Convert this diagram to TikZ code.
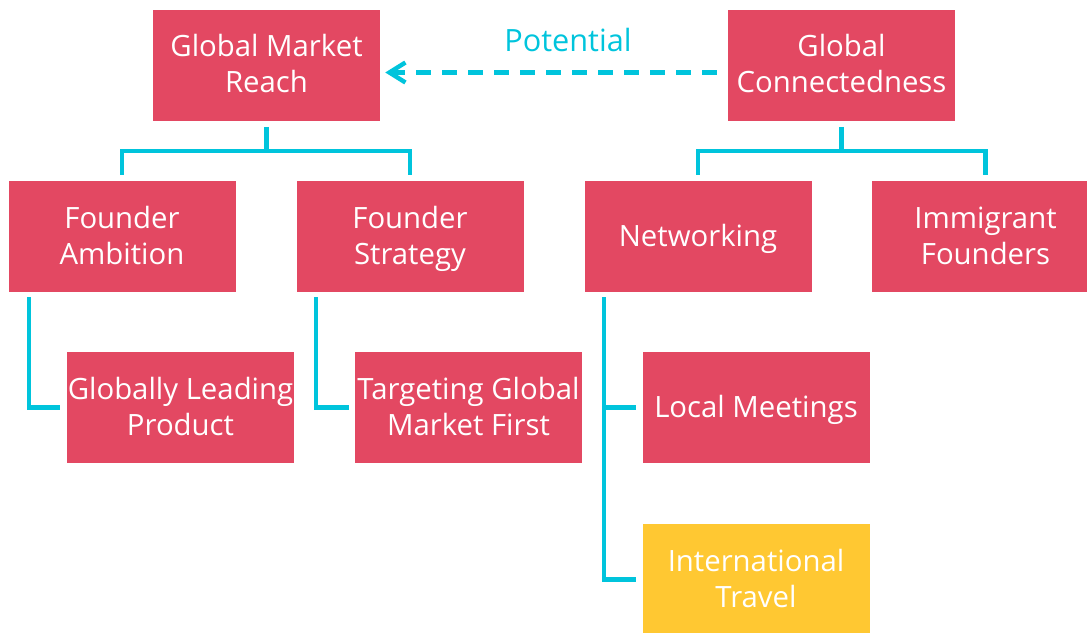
\documentclass[tikz,border=0pt]{standalone}
\usepackage{fontspec}
\setmainfont{Open Sans}
\usetikzlibrary{calc,arrows.meta}
\definecolor{boxred}{RGB}{227,72,98}
\definecolor{boxyellow}{RGB}{255,200,50}
\definecolor{linkcyan}{RGB}{0,196,220}
\newcommand{\bs}{\rule[-6pt]{0pt}{26.25pt}}

\begin{document}
\begin{tikzpicture}[x=0.75pt,y=-0.75pt,
  box/.style={rectangle, fill=boxred, text=white, align=center, minimum width=170.25pt, minimum height=83.25pt, inner sep=0pt, font=\fontsize{22}{27}\selectfont},
  link/.style={linkcyan, line width=3.3pt}]
\useasboundingbox (0,0) rectangle (1087,632);

% Top level
\node[box] (reach) at (266.5,65) {\bs Global Market\\Reach\bs};
\node[box] (connect) at (841.5,65) {\bs Global\\Connectedness\bs};

% Second level
\node[box] (ambition) at (122,236.5) {\bs Founder\\Ambition\bs};
\node[box] (strategy) at (410,236.5) {\bs Founder\\Strategy\bs};
\node[box] (networking) at (698,236.5) {\bs Networking\bs};
\node[box] (immigrant) at (985.5,236.5) {\bs Immigrant\\Founders\bs};

% Third level
\node[box] (leading) at (180.5,407.5) {\bs Globally Leading\\Product\bs};
\node[box] (targeting) at (468.5,407.5) {\bs Targeting Global\\Market First\bs};
\node[box] (meetings) at (756,407.5) {\bs Local Meetings\bs};
\node[box, fill=boxyellow] (travel) at (756,579.5) {\bs International\\Travel\bs};

% Tree links
\coordinate (reachfork) at ($(reach.south)+(0,30)$);
\draw[link] ($(reach.south)+(0,6)$) -- (reachfork) -| ($(ambition.north)+(0,-6)$);
\draw[link] (reachfork) -| ($(strategy.north)+(0,-6)$);
\coordinate (connectfork) at ($(connect.south)+(0,30)$);
\draw[link] ($(connect.south)+(0,6)$) -- (connectfork) -| ($(networking.north)+(0,-6)$);
\draw[link] (connectfork) -| ($(immigrant.north)+(0,-6)$);

% Side links
\draw[link] ($(ambition.south west)+(21,5)$) |- ($(leading.west)+(-7,0)$);
\draw[link] ($(strategy.south west)+(20,5)$) |- ($(targeting.west)+(-6,0)$);
\coordinate (trunk) at ($(networking.south west)+(20,5)$);
\draw[link] (trunk) |- ($(travel.west)+(-6,0)$);
\draw[link] (trunk |- meetings.west) -- ($(meetings.west)+(-6,0)$);

% Potential arrow
\draw[link, dash pattern=on 11.25pt off 8.25pt, -{Straight Barb[length=12pt,width=15pt]}] ($(connect.west)+(-11,7.5)$) -- ($(reach.east)+(5,7.5)$);
\node[text=linkcyan, font=\fontsize{23}{27}\selectfont] (potential) at (568,40) {Potential};
\end{tikzpicture}
\end{document}
